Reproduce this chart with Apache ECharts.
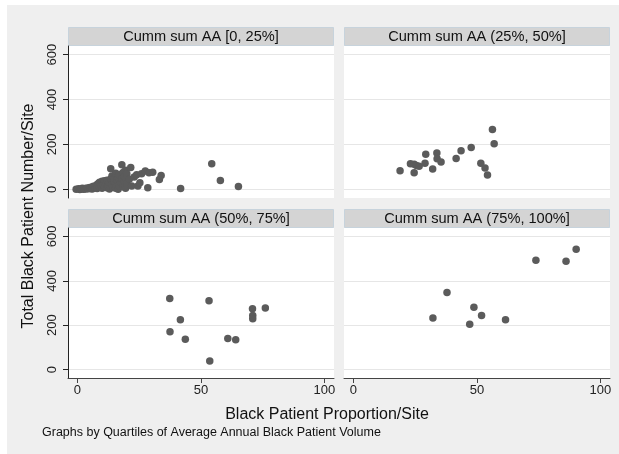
<!DOCTYPE html>
<html>
<head>
<meta charset="utf-8">
<script src="https://cdn.jsdelivr.net/npm/echarts@6/dist/echarts.min.js"></script>
<style>
html,body{margin:0;padding:0;background:#fff;}
#chart{width:619px;height:454px;}
</style>
</head>
<body>
<div id="chart"></div>
<script>
// ---- Data ----
const panelTitles = ['Cumm sum AA [0, 25%]', 'Cumm sum AA (25%, 50%]', 'Cumm sum AA (50%, 75%]', 'Cumm sum AA (75%, 100%]'];
const xTickLabels = [0, 50, 100];
const yTickLabels = [0, 200, 400, 600];
const xTitle = 'Black Patient Proportion/Site';
const yTitle = 'Total Black Patient Number/Site';
const noteText = 'Graphs by Quartiles of Average Annual Black Patient Volume';

// [Black patient proportion, total black patient number]
const q1Points = [
  [-0.5,1],[0.5,3],[1,0],[1.5,2],[2,5],[2.5,1],[3,4],[3.5,2],[4,7],[4.5,3],[5,9],[5.5,4],[6,11],[6,2],
  [6.5,14],[7,7],[7.5,17],[8,4],[8,22],[8.5,27],[9,11],[9,32],[9.5,19],[10,36],[10,5],[10.5,23],
  [11,39],[11,12],[11.5,29],[12,8],[12,41],[12.5,18],[13,30],[13,2],[13.5,92],[13.5,46],[14,22],
  [14,60],[14.5,10],[15,35],[15,50],[15.5,72],[15.5,5],[16,25],[16,42],[16.5,1],[16.5,55],[17,18],
  [17,66],[17.5,30],[18,110],[18,48],[18.5,12],[18.5,75],[19,38],[19,58],[19.5,5],[19.5,85],[20,25],
  [20,70],[21,45],[21.6,98],[22,15],[23,55],[24,65],[24.5,15],[25.3,30],[26,70],[27.5,82],[28.5,8],
  [29,74],[30.5,77],[33.2,44],[33.9,62],[41.8,4],[54.4,114],[57.9,40],[65.2,13]
];
const q2Points = [
  [18.9,83],[23.1,114],[24.6,112],[25.5,107],[26.6,103],[24.6,74],[29,117],[29.3,157],[32.1,91],
  [33.8,162],[33.9,137],[35.5,122],[41.6,138],[43.6,172],[47.7,187],[51.6,117],[53.3,95],[54.3,64],
  [56.3,267],[57,203]
];
const q3Points = [
  [37.4,320],[53.3,310],[41.7,225],[37.5,170],[43.7,137],[53.6,39],[60.9,140],[64.1,134],
  [70.9,274],[71,244],[71,229],[76.1,278]
];
const q4Points = [
  [90.2,542],[73.9,493],[86.1,488],[37.9,347],[48.8,281],[51.9,244],[32.2,232],[47.1,204],[61.6,225]
];
const panelData = [q1Points, q2Points, q3Points, q4Points];

// ---- Layout ----
const FONT = '"Liberation Sans", Arial, Helvetica, sans-serif';
const panels = [
  {left: 68, top: 46, width: 266, height: 152},
  {left: 344, top: 46, width: 266, height: 152},
  {left: 68, top: 228, width: 266, height: 150},
  {left: 344, top: 228, width: 266, height: 150}
];
const headerH = 19;

const grids = [], xAxes = [], yAxes = [], series = [], graphics = [];

graphics.push({type: 'rect', shape: {x: 7, y: 5, width: 612, height: 449}, style: {fill: '#efefef'}, z: -10, silent: true});

panels.forEach((p, i) => {
  const isBottom = i >= 2, isLeft = i % 2 === 0;
  grids.push({left: p.left, top: p.top, width: p.width, height: p.height, show: true,
    backgroundColor: '#ffffff', borderWidth: 0, containLabel: false});
  xAxes.push({
    type: 'value', gridIndex: i, min: -3.8, max: 103.9,
    axisLine: {show: isBottom, onZero: false, lineStyle: {color: '#444', width: 1}},
    axisTick: {show: isBottom, length: 5, customValues: xTickLabels, lineStyle: {color: '#444'}},
    axisLabel: {show: isBottom, customValues: xTickLabels, color: '#222', fontFamily: FONT, fontSize: 13, margin: 6,
      formatter: v => String(v)},
    splitLine: {show: false}
  });
  yAxes.push({
    type: 'value', gridIndex: i, min: -38, max: 638,
    axisLine: {show: isLeft, onZero: false, lineStyle: {color: '#222', width: 1}},
    axisTick: {show: isLeft, length: 5, customValues: yTickLabels, lineStyle: {color: '#222'}},
    axisLabel: {show: isLeft, customValues: yTickLabels, rotate: 90, color: '#222', fontFamily: FONT, fontSize: 13, margin: 9,
      formatter: v => String(v)},
    splitLine: {show: true, lineStyle: {color: '#e6e6e6', width: 1}}
  });
  series.push({
    type: 'scatter', xAxisIndex: i, yAxisIndex: i, data: panelData[i],
    symbol: 'circle', symbolSize: 7.5, itemStyle: {color: '#5b5b5b', opacity: 1}, silent: true
  });
  const hy = p.top - headerH;
  graphics.push({type: 'rect', shape: {x: p.left + 0.5, y: hy + 0.5, width: p.width - 1, height: headerH - 1},
    style: {fill: '#d4d4d4', stroke: '#c7d3dc', lineWidth: 1}, silent: true});
  graphics.push({type: 'text', x: p.left + p.width / 2, y: hy + headerH / 2 + 0.5,
    style: {text: panelTitles[i], fill: '#111', font: '14.6px ' + FONT, textAlign: 'center', textVerticalAlign: 'middle'}, silent: true});
});

graphics.push({type: 'text', x: 29, y: 216, rotation: Math.PI / 2,
  style: {text: yTitle, fill: '#111', font: '16px ' + FONT, textAlign: 'center', textVerticalAlign: 'middle'}, silent: true});
graphics.push({type: 'text', x: 327, y: 415, 
  style: {text: xTitle, fill: '#111', font: '16px ' + FONT, textAlign: 'center', textVerticalAlign: 'middle'}, silent: true});
graphics.push({type: 'text', x: 42, y: 433,
  style: {text: noteText, fill: '#111', font: '12.5px ' + FONT, textAlign: 'left', textVerticalAlign: 'middle'}, silent: true});

const chart = echarts.init(document.getElementById('chart'), null, {renderer: 'canvas'});
chart.setOption({
  animation: false,
  backgroundColor: '#ffffff',
  grid: grids, xAxis: xAxes, yAxis: yAxes, series: series, graphic: graphics
});
</script>
</body>
</html>
